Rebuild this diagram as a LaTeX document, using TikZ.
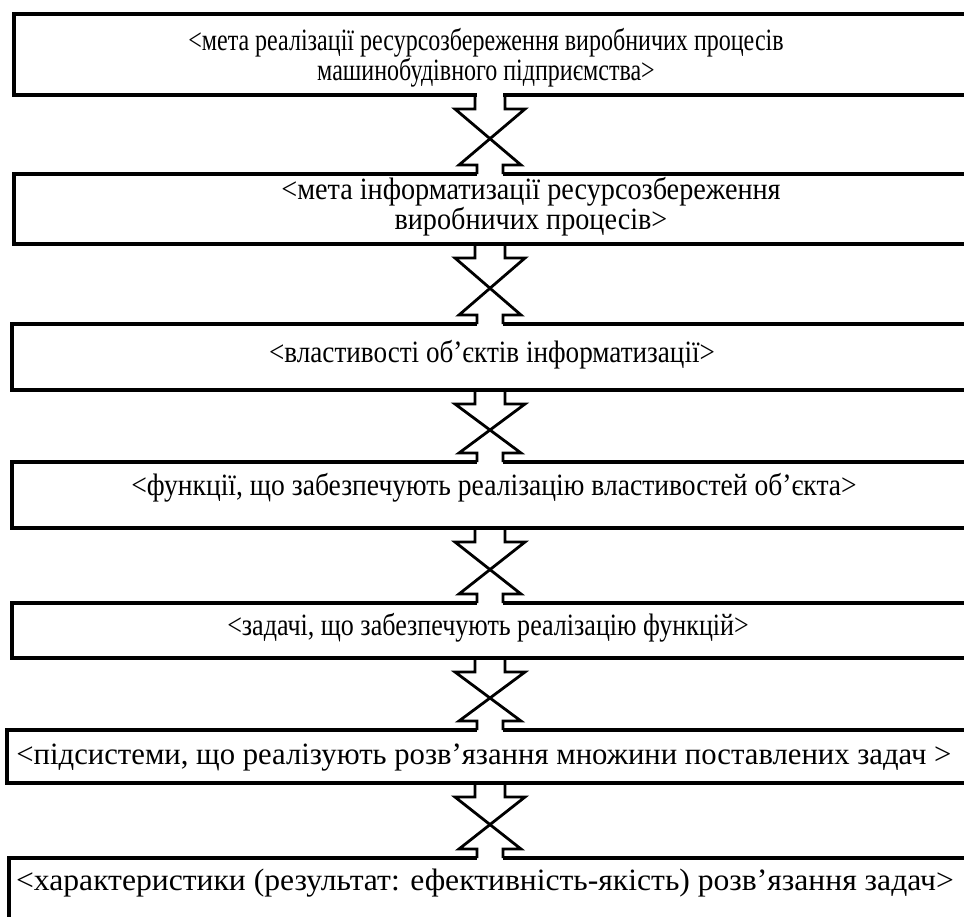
\documentclass[tikz,border=0pt]{standalone}
\usepackage{fontspec}
\setmainfont{Liberation Serif}
\usetikzlibrary{calc}
\newcommand{\wide}[2]{\scalebox{#1}[1]{#2}}
\begin{document}
\begin{tikzpicture}[x=0.5pt, y=-0.5pt,
  box/.style={line width=1.6pt},
  link/.style={line width=1.4pt},
  txt/.style={font=\fontsize{15.5}{14.8}\selectfont, align=center, inner sep=0pt}]
  \useasboundingbox (0, 0) rectangle (964, 916);
  \clip (0, 0) rectangle (964, 916);
  \coordinate (col) at (490, 0);
  \foreach \i/\l/\t/\b in {1/14/14/95, 2/14/174/244, 3/12/324/390, 4/12/462/528,
                           5/12/603/658, 6/7/730/783, 7/9/858/940} {
    \draw[box] (\l, \t) coordinate (n\i) rectangle (980, \b) coordinate (s\i);
  }
  \fill[white] ($(col |- s1)+(-13, -3)$) rectangle ($(col |- s1)+(13, 3)$);
  \foreach \i in {1, ..., 6} {
    \pgfmathtruncatemacro{\j}{\i+1}
    \coordinate (up) at (col |- s\i);
    \coordinate (dn) at (col |- n\j);
    \fill[white] ($(dn)+(-13, -3)$) rectangle ($(dn)+(13, 3)$);
    \draw[link] ($(up)+(-15, 0)$) -- ++(0, 14) -- ++(-20, 0) --
      ($(dn)+(31, -9)$) -- ++(-18, 0) -- ++(0, 9);
    \draw[link] ($(up)+(15, 0)$) -- ++(0, 14) -- ++(20, 0) --
      ($(dn)+(-31, -9)$) -- ++(18, 0) -- ++(0, 9);
  }
  \node[txt] (t1) at (486, 58) {\wide{0.775}{<мета реалізації ресурсозбереження виробничих процесів}\\\wide{0.775}{машинобудівного підприємства>}};
  \node[txt] (t2) at (531, 207) {\wide{0.91}{<мета інформатизації ресурсозбереження}\\\wide{0.91}{виробничих процесів>}};
  \node[txt] (t3) at (492, 355) {\wide{0.876}{<властивості об’єктів інформатизації>}};
  \node[txt] (t4) at (494, 488) {\wide{0.89}{<функції, що забезпечують реалізацію властивостей об’єкта>}};
  \node[txt] (t5) at (488, 628) {\wide{0.84}{<задачі, що забезпечують реалізацію функцій>}};
  \node[txt] (t6) at (484, 758) {\wide{0.99}{<підсистеми, що реалізують розв’язання множини поставлених задач >}};
  \node[txt] (t7) at (485, 883) {\wide{1.02}{<характеристики (результат: ефективність-якість) розв’язання задач>}};
\end{tikzpicture}
\end{document}
